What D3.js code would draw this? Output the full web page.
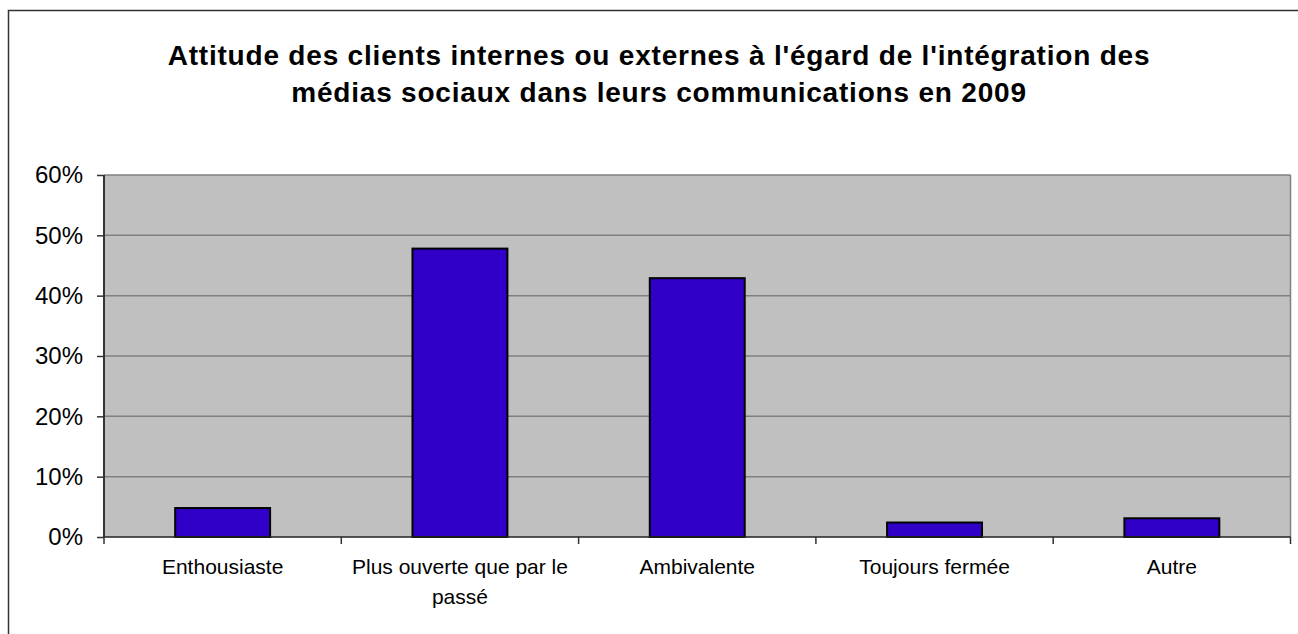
<!DOCTYPE html>
<html>
<head>
<meta charset="utf-8">
<script src="https://cdn.jsdelivr.net/npm/d3@7"></script>
<style>
  html, body { margin: 0; padding: 0; background: #fff; }
  svg { display: block; }
</style>
</head>
<body>
<svg id="chart" width="1298" height="634"></svg>
<script>
const titleLines = ["Attitude des clients internes ou externes à l'égard de l'intégration des",
                    "médias sociaux dans leurs communications en 2009"];
const categories = ["Enthousiaste", "Plus ouverte que par le passé", "Ambivalente", "Toujours fermée", "Autre"];
const categoryLines = [["Enthousiaste"], ["Plus ouverte que par le", "passé"], ["Ambivalente"], ["Toujours fermée"], ["Autre"]];
const values = [0.048, 0.478, 0.429, 0.024, 0.031];
const yTicks = [0, 0.1, 0.2, 0.3, 0.4, 0.5, 0.6];

const svg = d3.select("#chart");
const plot = {left: 104, right: 1290.5, top: 175, bottom: 537};

// outer border
svg.append("rect").attr("x", 8.5).attr("y", 10.5).attr("width", 1400).attr("height", 800)
  .attr("fill", "#fff").attr("stroke", "#333").attr("stroke-width", 1.5);

// title
const title = svg.append("text").attr("text-anchor", "middle")
  .attr("font-family", "Liberation Sans, Arial, sans-serif").attr("font-weight", "bold")
  .attr("font-size", 28).attr("letter-spacing", 0.8).attr("fill", "#000");
titleLines.forEach((t, i) => {
  title.append("tspan").attr("x", 659).attr("y", 65 + i * 37).text(t);
});

const x = d3.scaleBand().domain(categories).range([plot.left, plot.right]).paddingInner(0).paddingOuter(0);
const y = d3.scaleLinear().domain([0, 0.6]).range([plot.bottom, plot.top]);

// plot background
svg.append("rect").attr("x", plot.left).attr("y", plot.top)
  .attr("width", plot.right - plot.left).attr("height", plot.bottom - plot.top)
  .attr("fill", "#C0C0C0");

// gridlines
svg.append("g").selectAll("line").data(yTicks.filter(d => d > 0)).join("line")
  .attr("x1", plot.left).attr("x2", plot.right)
  .attr("y1", d => y(d)).attr("y2", d => y(d))
  .attr("stroke", "#808080").attr("stroke-width", 1.5);

// right border
svg.append("line").attr("x1", plot.right).attr("x2", plot.right)
  .attr("y1", plot.top).attr("y2", plot.bottom).attr("stroke", "#808080").attr("stroke-width", 1.5);

// bars
const barW = x.bandwidth() / 2.5;
svg.append("g").selectAll("rect").data(values).join("rect")
  .attr("x", (d, i) => x(categories[i]) + (x.bandwidth() - barW) / 2)
  .attr("y", d => y(d))
  .attr("width", barW)
  .attr("height", d => y(0) - y(d))
  .attr("fill", "#3000C8").attr("stroke", "#000").attr("stroke-width", 2);

// y axis
const yAxis = d3.axisLeft(y).tickValues(yTicks).tickFormat(d3.format(".0%")).tickSize(7).tickPadding(14);
const gy = svg.append("g").attr("transform", `translate(${plot.left},0)`).call(yAxis);
gy.select(".domain").attr("stroke", "#333").attr("stroke-width", 2).attr("d", `M0,${plot.top}V${plot.bottom}`);
gy.selectAll(".tick line").attr("stroke", "#333").attr("stroke-width", 1.5);
gy.selectAll(".tick text").attr("font-family", "Liberation Sans, Arial, sans-serif")
  .attr("font-size", 24).attr("fill", "#000");

// x axis
const boundaries = categories.map(c => x(c)).concat([plot.right]);
svg.append("line").attr("x1", plot.left).attr("x2", plot.right)
  .attr("y1", plot.bottom).attr("y2", plot.bottom).attr("stroke", "#222").attr("stroke-width", 1.5);
svg.append("g").selectAll("line").data(boundaries).join("line")
  .attr("x1", d => d).attr("x2", d => d)
  .attr("y1", plot.bottom).attr("y2", plot.bottom + 7)
  .attr("stroke", "#333").attr("stroke-width", 1.5);

const xl = svg.append("g").selectAll("text").data(categories).join("text")
  .attr("text-anchor", "middle")
  .attr("font-family", "Liberation Sans, Arial, sans-serif").attr("font-size", 21)
  .attr("fill", "#000");
xl.each(function(c, i) {
  const t = d3.select(this);
  categoryLines[i].forEach((ln, j) => {
    t.append("tspan").attr("x", x(c) + x.bandwidth() / 2).attr("y", 574 + j * 30).text(ln);
  });
});
</script>
</body>
</html>
